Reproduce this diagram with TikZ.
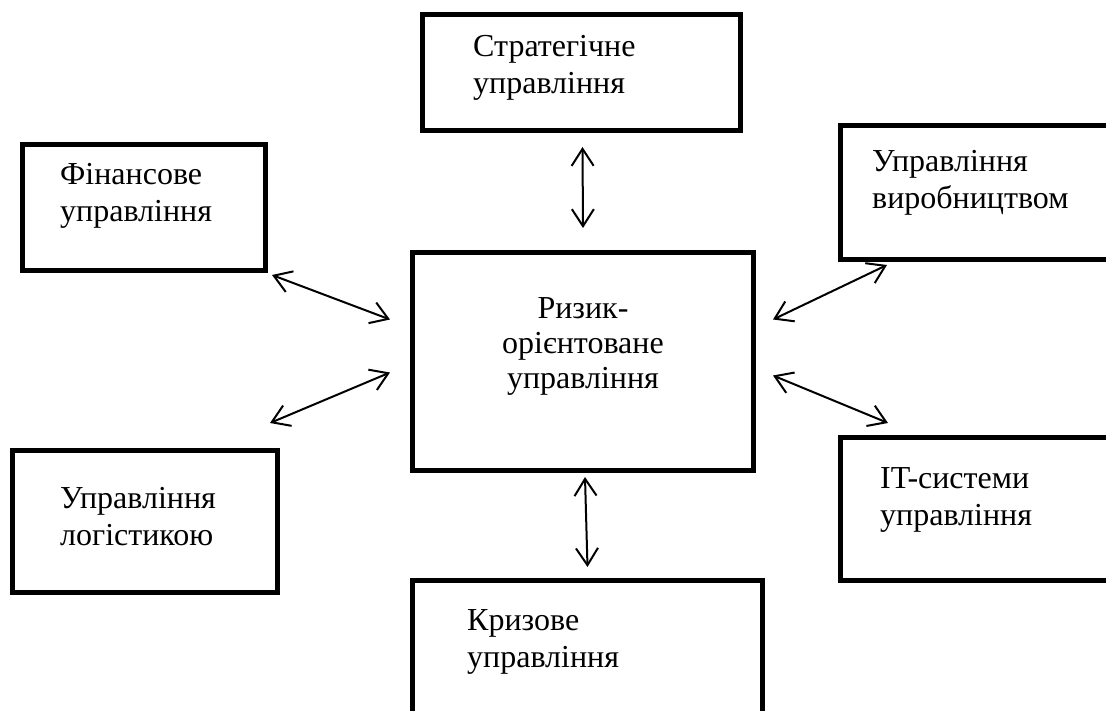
\documentclass[tikz,border=0pt]{standalone}
\usepackage{fontspec}
\setmainfont{Liberation Serif}
\usetikzlibrary{arrows.meta}

\begin{document}
\begin{tikzpicture}[x=1pt,y=-1pt,
  box/.style={draw=black, line width=5pt, rectangle, inner sep=0pt, anchor=north west},
  % labels are placed by the baseline of their last line
  label/.style={inner sep=0pt, anchor=base west, align=left,
    font=\fontsize{32pt}{37pt}\selectfont},
  biarrow/.style={line width=2pt, {Straight Barb[length=17pt,width=22pt]}-{Straight Barb[length=17pt,width=22pt]}}]

  \useasboundingbox (0,0) rectangle (1106,710);
  \clip (0,0) rectangle (1106,710);
  \fill[white] (0,0) rectangle (1106,710);

  % boxes
  \node[box, minimum width=318pt, minimum height=116pt] (strat)  at (420,12)  {};
  \node[box, minimum width=243pt, minimum height=126pt] (fin)    at (20,142)  {};
  \node[box, minimum width=292pt, minimum height=134pt] (prod)   at (838,123) {};
  \node[box, minimum width=341pt, minimum height=218pt] (center) at (410,250) {};
  \node[box, minimum width=265pt, minimum height=142pt] (log)    at (10,448)  {};
  \node[box, minimum width=292pt, minimum height=143pt] (it)     at (838,435) {};
  \node[box, minimum width=350pt, minimum height=162pt] (crisis) at (410,578) {};

  % labels
  \node[label] (tstrat)  at (473,93)  {Стратегічне\\управління};
  \node[label] (tfin)    at (60,221)  {Фінансове\\управління};
  \node[label] (tprod)   at (872,208) {Управління\\виробництвом};
  \node[label, anchor=base, align=center, font=\fontsize{32pt}{35pt}\selectfont] (tcenter) at (583,388) {Ризик-\\орієнтоване\\управління};
  \node[label] (tlog)    at (60,545)  {Управління\\логістикою};
  \node[label] (tit)     at (880,525) {IT-системи\\управління};
  \node[label] (tcrisis) at (467,667) {Кризове\\управління};

  % two-way links between the central box and the others
  \draw[biarrow] ([shift={(1,14)}]strat.south) -- ([shift={(0,-22)}]center.north);
  \draw[biarrow] ([shift={(4,2)}]fin.south east) -- ([shift={(-20,-42)}]center.west);
  \draw[biarrow] ([shift={(-20,11)}]center.west) -- ([shift={(-10,-25)}]log.north east);
  \draw[biarrow] ([shift={(49,3)}]prod.south west) -- ([shift={(17,-42)}]center.east);
  \draw[biarrow] ([shift={(17,14)}]center.east) -- ([shift={(50,-12)}]it.north west);
  \draw[biarrow] ([shift={(2,4)}]center.south) -- ([shift={(0,-11)}]crisis.north);
\end{tikzpicture}
\end{document}
